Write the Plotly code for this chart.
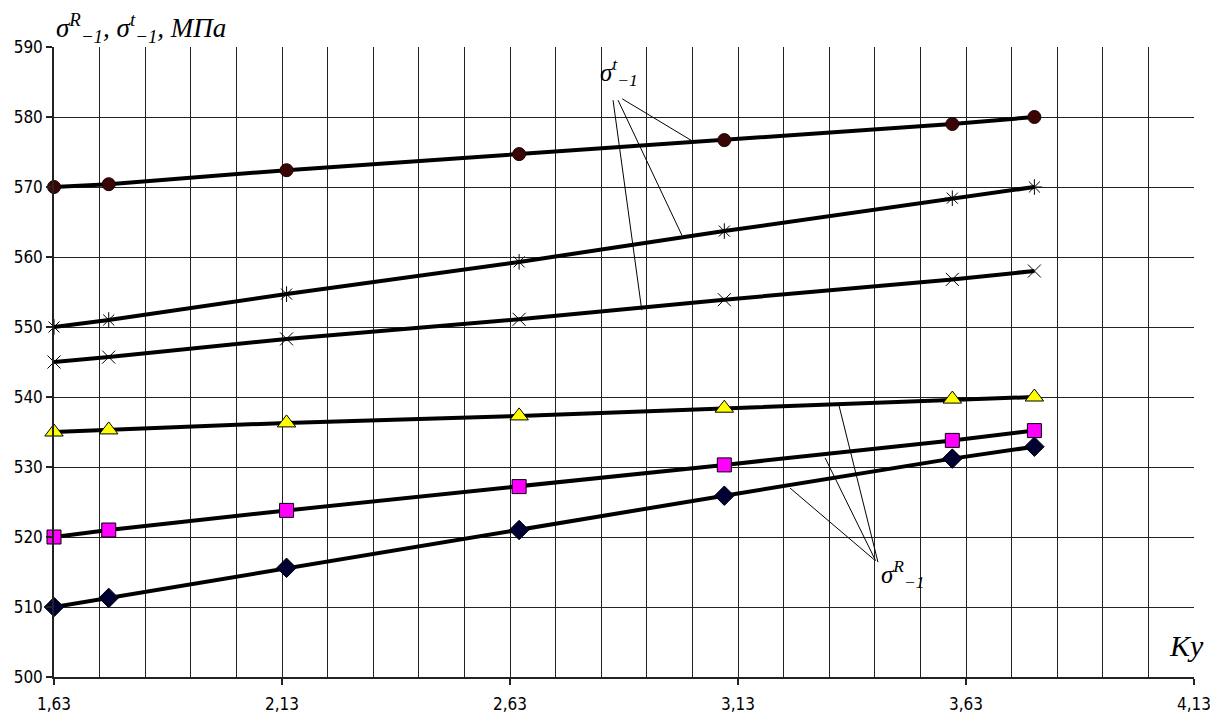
import plotly.graph_objects as go

ky = [1.63, 1.75, 2.14, 2.65, 3.10, 3.60, 3.78]
s_circle = [570.0, 570.4, 572.4, 574.7, 576.7, 579.0, 580.0]
s_star = [550.0, 551.0, 554.7, 559.3, 563.7, 568.4, 570.0]
s_x = [545.0, 545.7, 548.3, 551.1, 553.9, 556.8, 558.0]
s_tri = [535.0, 535.3, 536.3, 537.3, 538.4, 539.7, 540.0]
s_sq = [520.0, 521.0, 523.8, 527.2, 530.3, 533.8, 535.2]
s_dia = [510.0, 511.3, 515.6, 521.0, 525.9, 531.2, 532.9]

x_ticks = [1.63, 2.13, 2.63, 3.13, 3.63, 4.13]
y_ticks = [500, 510, 520, 530, 540, 550, 560, 570, 580, 590]

fig = go.Figure()

series = [
    (s_circle, dict(symbol="circle", size=13, color="#3a0505", line=dict(color="#1a0000", width=1))),
    (s_star, dict(symbol="asterisk-open", size=13, color="black", line=dict(color="black", width=1))),
    (s_x, dict(symbol="x-thin-open", size=13, color="black", line=dict(color="black", width=1))),
    (s_tri, dict(symbol="triangle-up", size=16, color="#ffff00", line=dict(color="black", width=1))),
    (s_sq, dict(symbol="square", size=14, color="#ff00ff", line=dict(color="black", width=1))),
    (s_dia, dict(symbol="diamond", size=15, color="#000033", line=dict(color="black", width=1))),
]
for ys, mk in series:
    fig.add_trace(go.Scatter(x=ky, y=ys, mode="lines+markers",
                             line=dict(color="black", width=4),
                             marker=mk, showlegend=False, cliponaxis=False))

# leader lines for labels
t_start = [(2.876, 582.6), (2.867, 582.4), (2.856, 582.4)]
t_end = [(3.029, 576.6), (3.007, 563.1), (2.919, 552.4)]
r_start = [(3.437, 516.4), (3.432, 516.6), (3.428, 516.8)]
r_end = [(3.351, 538.9), (3.321, 531.3), (3.244, 527.0)]
for (x0, y0), (x1, y1) in list(zip(t_start, t_end)) + list(zip(r_start, r_end)):
    fig.add_shape(type="line", x0=x0, y0=y0, x1=x1, y1=y1, xref="x", yref="y",
                  line=dict(color="black", width=1), layer="above")

serif = "Liberation Serif, Times New Roman, serif"
fig.add_annotation(x=2.87, y=583.6, xref="x", yref="y", xanchor="center", yanchor="bottom",
                   text="<i>σ<sup>t</sup><sub>−1</sub></i>", showarrow=False,
                   font=dict(family=serif, size=25, color="black"))
fig.add_annotation(x=3.44, y=517.6, xref="x", yref="y", xanchor="left", yanchor="top",
                   text="<i>σ<sup>R</sup><sub>−1</sub></i>", showarrow=False,
                   font=dict(family=serif, size=25, color="black"))
fig.add_annotation(x=0.0, y=1.0, xref="paper", yref="paper", xanchor="left", yanchor="bottom",
                   yshift=-2,
                   text="<i>σ<sup>R</sup><sub>−1</sub>, σ<sup>t</sup><sub>−1</sub>, МПа</i>",
                   showarrow=False, font=dict(family=serif, size=27, color="black"))
fig.add_annotation(x=1.0, y=0.02, xref="paper", yref="paper", xanchor="right", yanchor="bottom",
                   xshift=12,
                   text="<i>Ky</i>", showarrow=False,
                   font=dict(family=serif, size=30, color="black"))

tickfont = dict(family="Liberation Sans Narrow, Arial Narrow, DejaVu Sans Condensed, sans-serif",
                size=17, color="black")
fig.update_layout(
    width=1210, height=718,
    margin=dict(l=54, r=16, t=47, b=41, autoexpand=False),
    paper_bgcolor="white", plot_bgcolor="white",
    separators=", ",
    xaxis=dict(range=[1.63, 4.13], tickvals=x_ticks, tickformat=".2f", automargin=False,
               ticklabeloverflow="allow", ticklabelstandoff=5,
               showgrid=False, showline=True, linecolor="#222", linewidth=1.5,
               ticks="outside", ticklen=6, tickcolor="#222", tickwidth=1.5,
               tickfont=tickfont, zeroline=False,
               minor=dict(dtick=0.1, tick0=1.63, showgrid=True, gridcolor="#222", gridwidth=1.3)),
    yaxis=dict(range=[500, 590], tickvals=y_ticks, showgrid=True, gridcolor="#222", gridwidth=1.3,
               showline=True, linecolor="#222", linewidth=1.5, automargin=False,
               ticks="outside", ticklen=6, tickcolor="#222", tickwidth=1.5,
               tickfont=tickfont, zeroline=False),
)

fig.write_html("out.html", config={"displayModeBar": False},
               post_script="document.body.style.margin='0px';document.body.style.padding='0px';")
